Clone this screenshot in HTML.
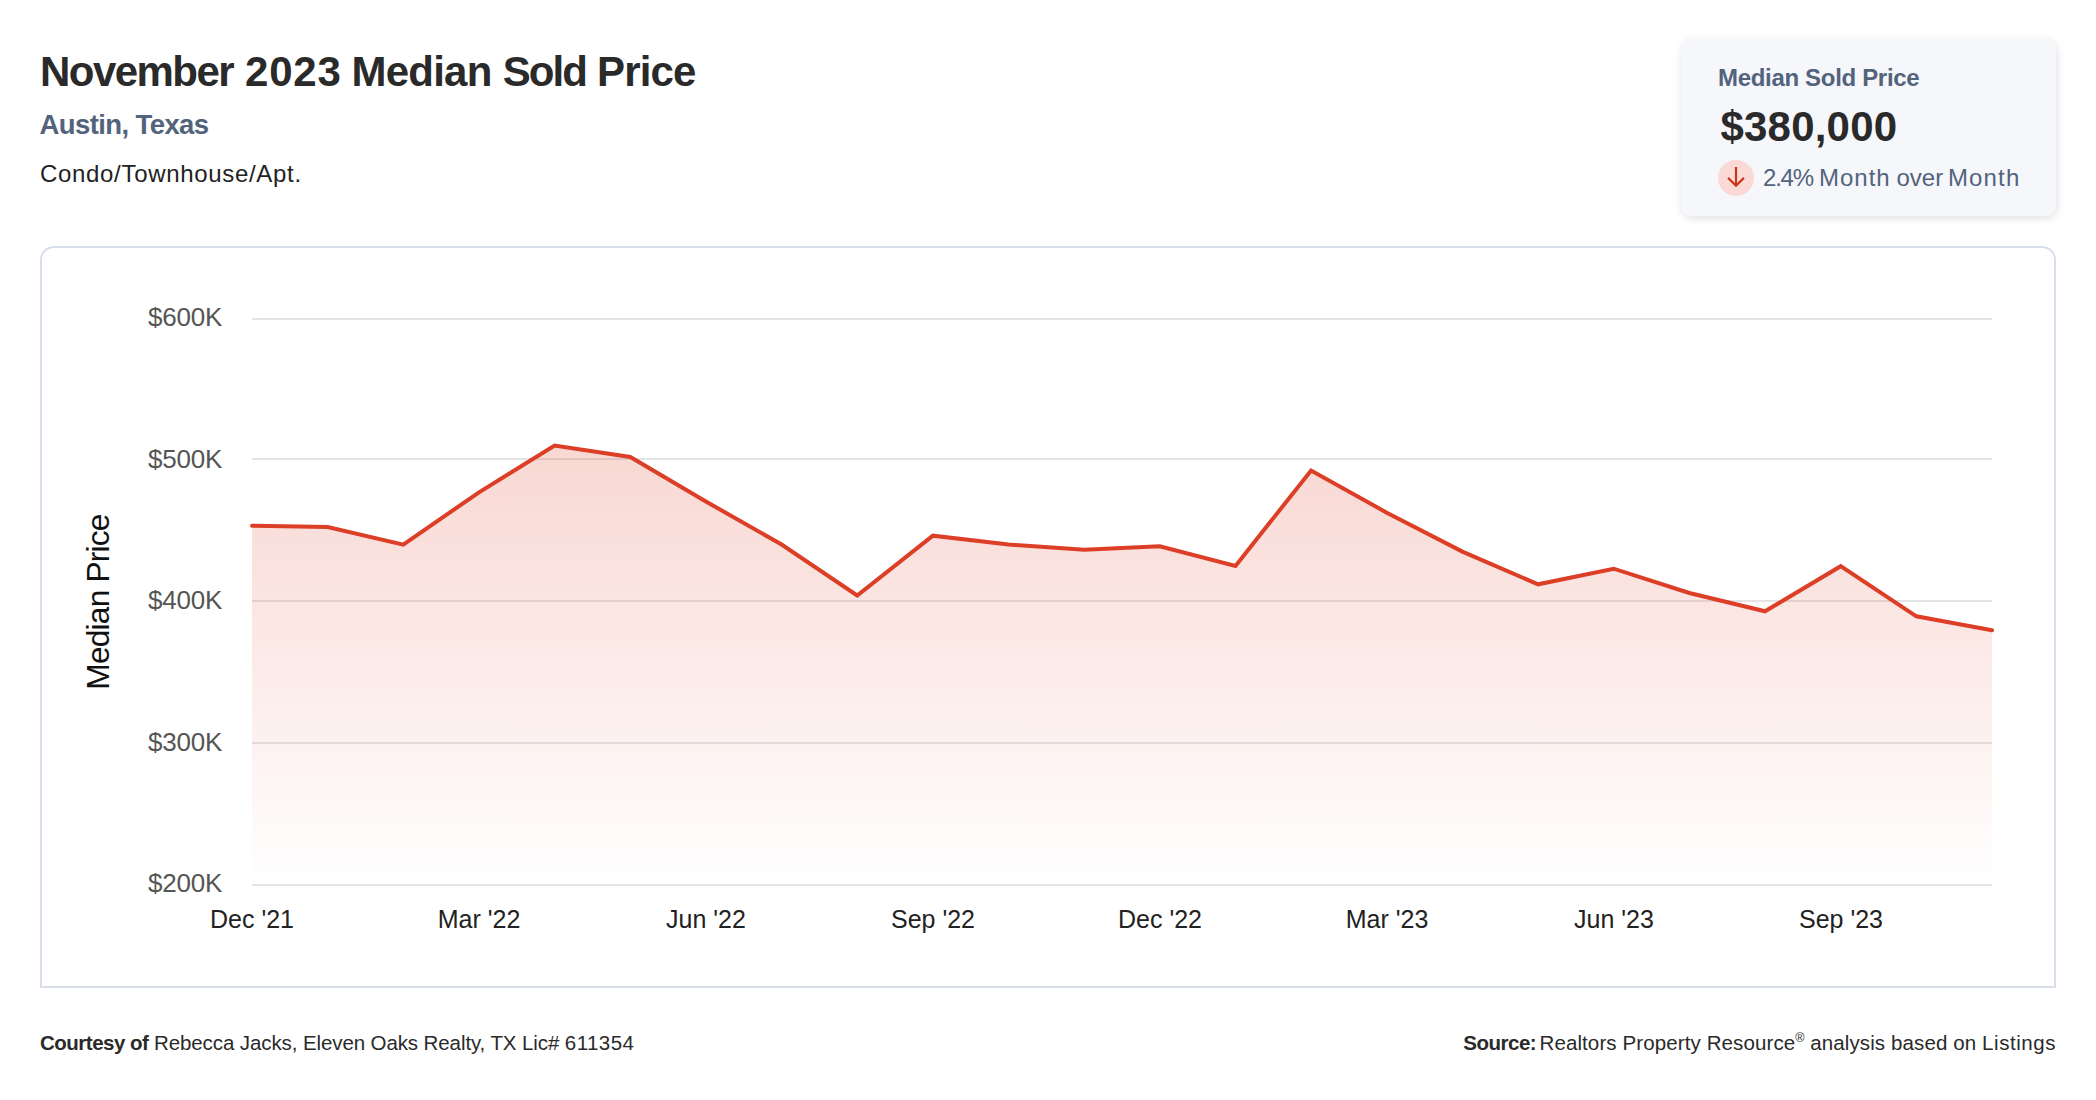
<!DOCTYPE html>
<html lang="en">
<head>
<meta charset="utf-8">
<title>November 2023 Median Sold Price</title>
<style>
  html, body { margin: 0; padding: 0; background: #ffffff; }
  body { width: 2096px; height: 1100px; position: relative; overflow: hidden;
         font-family: "Liberation Sans", sans-serif; color: #2a2a2a; }
  .t { position: absolute; white-space: nowrap; line-height: 1; margin: 0; }
  #title { left: 40px; top: 50.5px; width: 660px; height: 42px; font-size: 42px; font-weight: 700; color: #2a2a2a; }
  #sub   { left: 39.5px; top: 110.5px; font-size: 27.5px; font-weight: 700; color: #53637c; letter-spacing: -0.6px; }
  #ptype { left: 40px; top: 162px; font-size: 24px; color: #222222; letter-spacing: 0.68px; }

  #card { position: absolute; left: 1681px; top: 39px; width: 375px; height: 177px;
          background: #f5f7fb; border-radius: 10px;
          box-shadow: 1px 2px 8px rgba(0,0,0,0.13); }
  #clabel { left: 1718px; top: 66px; font-size: 24px; font-weight: 700; color: #53637c; letter-spacing: -0.32px; }
  #cval   { left: 1720.5px; top: 106px; font-size: 42px; font-weight: 700; color: #2a2a2a; letter-spacing: 0.2px; }
  #cicon  { position: absolute; left: 1718px; top: 160px; width: 36px; height: 36px;
            border-radius: 50%; background: #fbdad5; }
  #cmom   { left: 1762.5px; top: 166px; width: 262px; height: 24px; font-size: 24px; color: #53637c; }
  #cmom span { position: absolute; top: 0; }
  #m1 { left: 0.6px; letter-spacing: -1.26px; }
  #m2 { left: 56.6px; letter-spacing: 0.95px; }
  #m3 { left: 134px; letter-spacing: 0px; }
  #m4 { left: 185.4px; letter-spacing: 1.17px; }

  #chart { position: absolute; left: 40px; top: 246px; width: 2012px; height: 738px;
           border: 2px solid #d8dfea; border-radius: 14px 14px 0 0; background: #fff; }
  #plot { position: absolute; left: 0; top: 0; width: 2096px; height: 1100px; }
  .yl { font-size: 26px; letter-spacing: -0.25px; color: #555555; text-align: right; width: 120px; left: 102px; }
  .xl { font-size: 25px; color: #222222; text-align: center; width: 160px; top: 907px; }
  #ytitle { left: 99.2px; top: 601.5px; font-size: 31.7px; letter-spacing: -0.8px; color: #111111;
            transform: translate(-50%, -50%) rotate(-90deg); }
  #fl { left: 40px; top: 1033px; font-size: 20.5px; color: #2a2a2a; letter-spacing: -0.1px; }
  #fr { right: 40px; top: 1033px; font-size: 20.5px; color: #2a2a2a; letter-spacing: 0.11px; }
  #fr sup { font-size: 12.5px; vertical-align: baseline; position: relative; top: -8.5px; letter-spacing: 0; line-height: 0; }
  b { font-weight: 700; letter-spacing: -0.5px; }
  #fr b { margin-right: -2.5px; }
  #lic { letter-spacing: 0.45px; }
  #lst { letter-spacing: 0.55px; }
  #title span { position: absolute; top: 0; }
  #tw1 { left: 0px; letter-spacing: -1.54px; }
  #tw2 { left: 205.1px; letter-spacing: 0.78px; }
  #tw3 { left: 311.6px; letter-spacing: -0.79px; }
  #tw4 { left: 462.8px; letter-spacing: -2.0px; }
  #tw5 { left: 557.1px; letter-spacing: -0.9px; }
</style>
</head>
<body>
  <h1 class="t" id="title"><span id="tw1">November</span> <span id="tw2">2023</span> <span id="tw3">Median</span> <span id="tw4">Sold</span> <span id="tw5">Price</span></h1>
  <div class="t" id="sub">Austin, Texas</div>
  <div class="t" id="ptype">Condo/Townhouse/Apt.</div>

  <div id="card"></div>
  <div class="t" id="clabel">Median Sold Price</div>
  <div class="t" id="cval">$380,000</div>
  <div id="cicon">
    <svg width="36" height="36" viewBox="0 0 36 36">
      <path d="M18 7 V25.8 M10.1 17.9 L18 25.8 L25.9 17.9" fill="none" stroke="#c9351c" stroke-width="2.2" stroke-linecap="butt" stroke-linejoin="miter"/>
    </svg>
  </div>
  <div class="t" id="cmom"><span id="m1">2.4%</span> <span id="m2">Month</span> <span id="m3">over</span> <span id="m4">Month</span></div>

  <div id="chart"></div>
  <svg id="plot" viewBox="0 0 2096 1100">
    <defs>
      <linearGradient id="g" x1="0" y1="445" x2="0" y2="885" gradientUnits="userSpaceOnUse">
        <stop offset="0" stop-color="#e04a33" stop-opacity="0.22"/>
        <stop offset="1" stop-color="#e04a33" stop-opacity="0"/>
      </linearGradient>
    </defs>
    <g stroke="#e4e4e4" stroke-width="2">
      <line x1="252" y1="319" x2="1992" y2="319"/>
      <line x1="252" y1="459" x2="1992" y2="459"/>
      <line x1="252" y1="601" x2="1992" y2="601"/>
      <line x1="252" y1="743" x2="1992" y2="743"/>
      <line x1="252" y1="885" x2="1992" y2="885"/>
    </g>
    <path id="area" fill="url(#g)" d="M252 525.8 L327.7 527 L403.3 544.6 L479 492.3 L554.6 445.6 L630.3 457 L705.9 501.5 L781.6 544.5 L857.2 595.5 L932.9 535.7 L1008.5 544.6 L1084.2 549.8 L1159.8 546.2 L1235.5 565.9 L1311.1 470.5 L1386.8 512.7 L1462.4 551.6 L1538.1 584.3 L1613.7 568.7 L1689.4 593 L1765 611.3 L1840.7 566.2 L1916.4 616.3 L1992 630.3 L1992 885 L252 885 Z"/>
    <path id="line" fill="none" stroke="#dc3e26" stroke-width="4" stroke-linejoin="miter" stroke-linecap="round" d="M252 525.8 L327.7 527 L403.3 544.6 L479 492.3 L554.6 445.6 L630.3 457 L705.9 501.5 L781.6 544.5 L857.2 595.5 L932.9 535.7 L1008.5 544.6 L1084.2 549.8 L1159.8 546.2 L1235.5 565.9 L1311.1 470.5 L1386.8 512.7 L1462.4 551.6 L1538.1 584.3 L1613.7 568.7 L1689.4 593 L1765 611.3 L1840.7 566.2 L1916.4 616.3 L1992 630.3"/>
  </svg>

  <div class="t yl" style="top:304px">$600K</div>
  <div class="t yl" style="top:445.5px">$500K</div>
  <div class="t yl" style="top:587px">$400K</div>
  <div class="t yl" style="top:728.5px">$300K</div>
  <div class="t yl" style="top:870px">$200K</div>

  <div class="t xl" style="left:172px">Dec '21</div>
  <div class="t xl" style="left:399px">Mar '22</div>
  <div class="t xl" style="left:626px">Jun '22</div>
  <div class="t xl" style="left:853px">Sep '22</div>
  <div class="t xl" style="left:1080px">Dec '22</div>
  <div class="t xl" style="left:1307px">Mar '23</div>
  <div class="t xl" style="left:1534px">Jun '23</div>
  <div class="t xl" style="left:1761px">Sep '23</div>

  <div class="t" id="ytitle">Median Price</div>

  <div class="t" id="fl"><b>Courtesy of</b> Rebecca Jacks, Eleven Oaks Realty, TX Lic# <span id="lic">611354</span></div>
  <div class="t" id="fr"><b>Source:</b> Realtors Property Resource<sup>®</sup> analysis based on <span id="lst">Listings</span></div>
</body>
</html>
